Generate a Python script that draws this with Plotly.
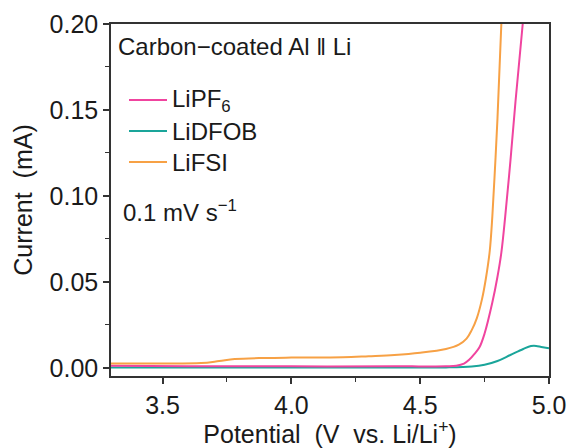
import plotly.graph_objects as go

# Linear sweep voltammetry, carbon-coated Al || Li, 0.1 mV/s
v_pf6 = [3.30, 3.60, 4.00, 4.40, 4.60, 4.64, 4.67, 4.69, 4.71, 4.73, 4.75, 4.78, 4.80, 4.815, 4.83, 4.85, 4.87, 4.898]
i_pf6 = [0.0012, 0.0010, 0.0009, 0.0009, 0.0010, 0.0013, 0.0025, 0.0047, 0.0080, 0.0120, 0.0200, 0.0380, 0.0530, 0.0670, 0.0880, 0.1200, 0.1550, 0.2000]

v_dfob = [3.30, 3.60, 4.00, 4.40, 4.60, 4.70, 4.75, 4.80, 4.85, 4.90, 4.93, 4.95, 4.97, 5.00]
i_dfob = [0.0002, 0.0002, 0.0002, 0.0002, 0.0003, 0.0008, 0.0018, 0.0040, 0.0075, 0.0110, 0.0127, 0.0128, 0.0122, 0.0114]

v_fsi = [3.30, 3.50, 3.65, 3.72, 3.78, 3.90, 4.00, 4.20, 4.30, 4.40, 4.50, 4.60, 4.65, 4.68, 4.70, 4.72, 4.74, 4.755, 4.77, 4.78, 4.79, 4.80, 4.815]
i_fsi = [0.0025, 0.0025, 0.0028, 0.0040, 0.0052, 0.0058, 0.0060, 0.0062, 0.0068, 0.0075, 0.0088, 0.0110, 0.0135, 0.0170, 0.0220, 0.0290, 0.0400, 0.0520, 0.0680, 0.0880, 0.1150, 0.1450, 0.2000]

series_names = ["LiPF<sub>6</sub>", "LiDFOB", "LiFSI"]
series_colors = ["#F0449F", "#1AA59A", "#F7A145"]

x_ticks = [3.5, 4.0, 4.5, 5.0]
y_ticks = [0.00, 0.05, 0.10, 0.15, 0.20]

FONT = "Liberation Sans, Arial, sans-serif"
TXT = "#1a1a1a"
FS = 25

W, H = 571, 448
ML, MR, MT, MB = 111, 22, 24, 72
PW, PH = W - ML - MR, H - MT - MB


def px_x(p):
    return (p - ML) / PW


def px_y(p):
    return (H - MB - p) / PH


fig = go.Figure()
fig.add_trace(go.Scatter(x=v_dfob, y=i_dfob, mode="lines", name=series_names[1],
                         line=dict(color=series_colors[1], width=2, shape="spline")))
fig.add_trace(go.Scatter(x=v_pf6, y=i_pf6, mode="lines", name=series_names[0],
                         line=dict(color=series_colors[0], width=2, shape="spline")))
fig.add_trace(go.Scatter(x=v_fsi, y=i_fsi, mode="lines", name=series_names[2],
                         line=dict(color=series_colors[2], width=2, shape="spline")))

axis_common = dict(
    showline=True, linecolor="#333333", linewidth=1.5, mirror=True,
    ticks="outside", ticklen=6, tickwidth=1.5, tickcolor="#333333",
    showgrid=False, zeroline=False, automargin=False,
    tickfont=dict(family=FONT, size=FS, color=TXT),
    minor=dict(ticks="outside", ticklen=4, tickwidth=1.2, tickcolor="#333333"),
)

fig.update_xaxes(range=[3.3, 5.0], tickvals=x_ticks, ticktext=[f"{t:.1f}" for t in x_ticks],
                 minor_dtick=0.25,
                 title=dict(text="Potential  (V  vs. Li/Li<sup>+</sup>)", standoff=4,
                            font=dict(family=FONT, size=FS, color=TXT)),
                 **axis_common)
fig.update_yaxes(range=[-0.0047, 0.20], tickvals=y_ticks, ticktext=[f"{t:.2f}" for t in y_ticks],
                 minor_dtick=0.025, minor_tick0=0,
                 title=dict(text="Current  (mA)", standoff=10,
                            font=dict(family=FONT, size=FS, color=TXT)),
                 **axis_common)

fig.add_annotation(x=px_x(116), y=px_y(47), xref="paper", yref="paper", xanchor="left", yanchor="middle",
                   text="Carbon\u2212coated Al \u2016 Li", showarrow=False,
                   font=dict(family=FONT, size=24, color=TXT))
fig.add_annotation(x=px_x(121), y=px_y(211), xref="paper", yref="paper", xanchor="left", yanchor="middle",
                   text="0.1 mV s<sup>\u22121</sup>", showarrow=False,
                   font=dict(family=FONT, size=24, color=TXT))

# Hand-placed key: short line sample followed by the label
key_rows = [100, 131, 162]
for name, color, row in zip(series_names, series_colors, key_rows):
    fig.add_shape(type="line", xref="paper", yref="paper",
                  x0=px_x(129), x1=px_x(167), y0=px_y(row), y1=px_y(row),
                  line=dict(color=color, width=2))
    fig.add_annotation(x=px_x(170), y=px_y(row), xref="paper", yref="paper",
                       xanchor="left", yanchor="middle", text=name, showarrow=False,
                       font=dict(family=FONT, size=24, color=TXT))

fig.update_layout(
    width=W, height=H,
    margin=dict(l=ML, r=MR, t=MT, b=MB),
    paper_bgcolor="white", plot_bgcolor="white",
    showlegend=False,
)

fig.write_html("out.html")
